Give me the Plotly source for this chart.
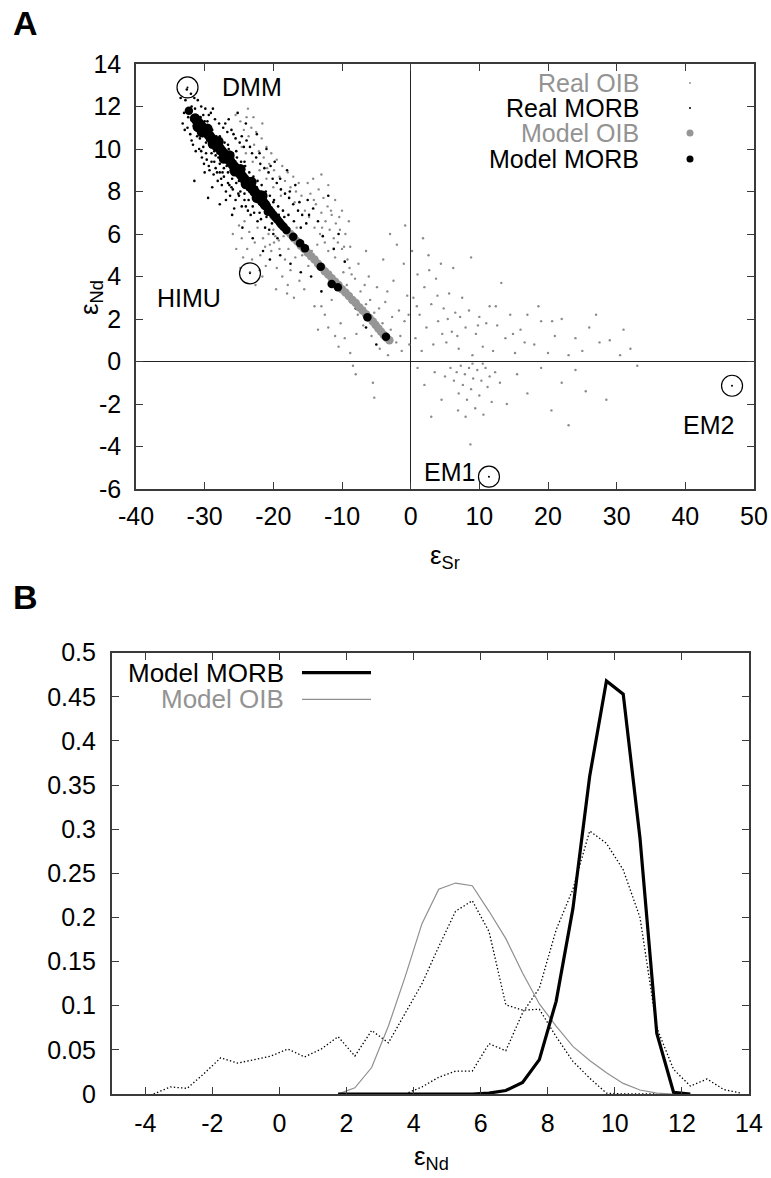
import plotly.graph_objects as go

W, H = 771, 1178
FONT = "Liberation Sans, Arial, Helvetica, sans-serif"
GRAY = "#939393"

# ---------------- Panel A data (eps_Sr, eps_Nd) ----------------
real_morb = [
    (-32.8,12.3),(-32.4,11.5),(-31.9,12.0),(-31.6,11.1),(-31.2,11.6),(-30.9,10.8),(-30.6,11.5),(-30.3,10.6),
    (-30.0,11.3),(-29.8,10.3),(-29.5,11.0),(-29.2,10.1),(-28.9,10.9),(-28.6,9.9),(-28.3,10.6),(-28.0,9.6),
    (-27.7,10.4),(-27.4,9.5),(-27.1,10.3),(-26.8,9.2),(-26.5,10.0),(-26.2,9.0),(-25.9,9.8),(-25.6,8.8),
    (-25.3,9.6),(-25.0,8.5),(-24.7,9.4),(-24.4,8.3),(-24.1,9.2),(-23.8,8.1),(-23.5,8.9),(-23.2,7.9),
    (-22.9,8.7),(-22.6,7.6),(-22.3,8.5),(-22.0,7.4),(-21.7,8.3),(-21.4,7.2),(-21.1,8.0),(-20.8,7.0),
    (-20.5,7.8),(-20.2,6.9),(-19.9,7.6),(-19.6,6.7),(-19.3,7.3),(-19.0,6.4),(-18.6,7.1),(-18.2,6.2),
    (-17.8,6.9),(-17.4,6.0),(-17.0,6.6),(-16.5,5.8),(-16.0,6.3),
    (-33.2,11.2),(-32.9,10.9),(-32.1,10.7),(-31.7,10.2),(-31.3,9.9),(-30.8,10.0),(-30.4,9.6),(-30.1,9.3),
    (-29.7,9.5),(-29.3,9.0),(-29.0,9.4),(-28.7,8.8),(-28.4,9.1),(-28.1,8.5),(-27.8,8.9),(-27.5,8.3),
    (-27.2,8.7),(-26.9,8.0),(-26.6,8.4),(-26.3,7.8),(-25.9,8.1),(-25.5,7.6),(-25.1,7.9),(-24.6,7.3),
    (-24.2,7.6),(-23.7,7.1),(-23.3,6.9),(-22.8,7.0),(-22.3,6.6),(-21.8,6.7),(-21.2,6.3),(-20.6,6.2),
    (-20.0,6.0),(-19.4,5.8),
    (-30.5,12.0),(-29.9,11.9),(-29.1,11.7),(-28.5,11.4),(-27.9,11.2),(-27.3,11.0),(-26.7,10.8),(-26.1,10.9),
    (-25.5,10.5),(-24.9,10.3),(-24.3,10.1),(-23.9,10.4),(-23.1,9.8),(-22.5,9.6),(-21.9,9.3),(-21.3,9.1),
    (-20.7,8.9),(-20.1,8.6),(-19.5,8.4),(-18.9,8.1),(-18.3,7.9),(-17.7,7.7),(-17.1,7.4),(-16.4,7.1),
    (-15.8,6.9),(-15.2,6.5),
    (-33.5,12.4),(-32.6,12.8),(-32.0,12.6),(-31.0,12.3),(-28.8,11.9),(-26.5,11.4),(-25.2,11.7),(-24.0,11.2),
    (-22.4,10.7),(-21.0,10.0),(-19.8,9.4),(-18.0,9.0),(-16.8,8.3),(-15.0,7.6),(-14.2,7.2),(-13.5,6.6),
    (-12.8,5.9),(-12.0,7.8),(-11.2,5.3),(-10.5,6.0),(-9.6,4.7),(-31.5,8.5),(-29.5,7.7),(-27.8,7.4),
    (-26.0,6.9),(-24.5,6.3),(-23.0,5.8),(-21.5,5.2),(-20.5,4.8),(-19.0,5.0),(-17.5,4.6),(-16.0,4.2),
    (-14.5,4.0),(-13.0,3.3),(-9.0,3.1),(-8.0,2.5),(-6.5,1.6),(-5.0,0.8),
    (-30.2,10.1),(-29.6,10.4),(-29.0,9.8),(-28.4,9.7),(-27.8,9.3),(-27.2,9.1),(-26.6,8.9),(-26.0,8.6),
    (-25.4,8.4),(-24.8,8.0),(-24.2,7.9),(-23.6,7.6),(-28.8,10.2),(-28.2,8.9),(-27.6,8.6),(-26.4,8.3),
    (-25.8,9.2),(-25.2,8.9),(-24.6,8.6),(-23.4,8.2),(-22.8,7.9),(-22.2,7.8),(-30.7,10.5),(-31.1,10.6),
    (-29.4,9.2),(-27.0,9.6),(-26.9,7.6),(-25.7,7.2),(-28.9,8.2),(-30.0,8.9),
    (-32.2,11.9),(-31.8,11.5),(-31.4,11.9),(-31.0,11.0),(-30.6,10.7),(-30.2,11.6),(-29.9,10.6),(-29.6,11.3),
    (-29.3,10.4),(-29.0,10.9),(-28.7,10.0),(-28.4,10.4),(-28.1,9.8),(-27.8,10.6),(-27.5,9.8),(-27.2,10.0),
    (-26.9,9.4),(-26.6,10.2),(-26.3,9.3),(-26.0,9.7),(-25.7,9.0),(-25.4,9.9),(-25.1,8.7),(-24.8,9.2),
    (-24.5,8.6),(-24.2,9.4),(-23.9,8.5),(-23.6,8.6),(-23.3,8.0),(-23.0,8.6),(-22.7,8.0),(-22.4,8.2),
    (-22.1,7.6),(-21.8,8.0),(-21.5,7.5),(-21.2,7.7),(-20.9,7.3),(-20.6,7.4),(-20.3,7.1),(-20.0,7.5),
    (-19.7,6.9),(-19.2,6.9),(-18.8,6.6),(-18.4,6.8),(-31.9,10.4),(-30.5,9.9),(-29.8,9.8),(-28.6,9.4),
    (-27.4,8.9),(-26.1,8.2),(-25.0,7.8),(-24.0,7.3),(-23.0,7.3),(-22.0,7.0),(-21.0,6.8),(-20.2,6.5),
    (-32.5,11.0),(-33.0,11.7),(-31.5,12.4),(-29.4,11.6),(-27.0,11.2),(-25.8,10.7),(-24.6,10.6),(-23.4,10.1),
    (-22.0,9.8),(-20.4,9.2),(-19.0,8.6),(-17.6,8.0),(-16.2,7.5),(-14.8,6.9),
]

real_oib = [
    (-25.5,11.6),(-24.8,11.3),(-24.3,10.9),(-23.9,11.5),(-23.6,10.6),(-23.2,11.0),(-22.8,10.2),(-22.5,10.8),
    (-22.1,9.9),(-21.7,10.5),(-21.4,9.6),(-21.0,10.1),(-20.6,9.3),(-20.3,9.8),(-19.9,9.0),(-19.5,9.5),
    (-19.1,8.7),(-18.7,9.2),(-18.3,8.5),(-17.9,8.9),(-17.5,8.2),(-17.1,8.7),(-16.7,8.0),(-16.3,8.4),
    (-15.9,7.8),(-24.0,9.8),(-23.0,9.4),(-22.0,9.0),(-21.0,8.6),(-20.0,8.2),
    (-15.0,8.4),(-14.6,7.9),(-14.2,8.6),(-13.8,7.4),(-13.4,8.1),(-13.0,7.0),(-12.7,7.7),(-12.4,6.6),
    (-12.1,7.3),(-11.8,6.2),(-11.5,6.9),(-11.2,5.8),(-10.9,6.5),(-10.6,5.6),(-10.3,6.2),(-10.0,5.3),
    (-14.8,6.8),(-14.0,6.3),(-13.2,6.0),(-12.5,5.6),(-12.0,5.2),(-11.0,4.9),(-13.6,5.5),(-14.4,5.2),
    (-9.5,6.0),(-9.2,4.8),(-8.8,5.4),(-13.0,8.8),(-12.0,8.3),(-11.0,7.6),(-10.0,7.1),(-9.0,6.6),
    (-25.0,6.4),(-24.6,5.8),(-24.2,6.6),(-23.8,5.3),(-23.5,6.1),(-23.1,4.8),(-22.7,5.6),(-22.3,6.3),
    (-21.9,5.0),(-21.5,5.8),(-21.1,4.5),(-20.7,6.0),(-20.3,5.2),(-19.9,5.6),(-19.5,4.4),(-19.1,5.3),
    (-18.7,4.0),(-18.3,4.8),(-17.9,3.6),(-17.5,4.3),(-20.0,6.2),(-19.7,5.9),(-19.2,5.7),(-20.5,5.5),
    (-21.2,5.4),(-22.0,4.3),(-23.4,4.2),(-24.4,4.9),(-25.4,5.3),(-18.0,3.2),(-17.0,3.0),(-16.2,3.8),
    (-15.5,3.4),(-16.8,4.9),(-15.8,5.0),
    (-9.8,4.2),(-9.3,3.6),(-8.9,4.4),(-8.5,2.8),(-8.1,3.9),(-7.7,2.2),(-7.3,3.3),(-6.9,1.7),
    (-6.5,2.7),(-6.1,4.0),(-5.7,1.2),(-5.3,2.3),(-4.9,3.5),(-4.5,0.6),(-4.1,1.8),(-3.7,2.8),
    (-3.3,0.3),(-2.9,1.5),(-2.5,3.8),(-2.1,0.9),(-1.7,2.4),(-1.3,0.5),(-0.9,1.9),(-0.5,3.1),
    (-11.5,2.9),(-11.0,1.2),(-10.5,0.7),(-10.2,1.8),(-9.6,1.1),(-8.8,0.4),(-8.4,-0.2),(-8.0,-0.6),
    (-5.5,-1.0),(-5.3,-1.7),(-6.5,5.2),(-4.0,4.8),(-2.0,5.5),(-1.0,4.6),(-0.8,6.4),(-3.0,6.0),
    (-12.5,2.2),(-13.5,1.5),(-14.0,2.6),
    (0.4,3.0),(0.7,1.1),(1.0,4.1),(1.3,2.2),(1.6,0.5),(2.0,3.5),(2.3,1.6),(2.6,5.0),
    (3.0,2.7),(3.3,0.8),(3.7,3.9),(4.0,1.9),(4.4,4.6),(4.8,2.5),(5.2,0.9),(5.6,3.2),
    (6.0,1.4),(6.5,2.3),(7.0,0.6),(7.5,3.0),(8.0,1.6),(8.5,2.4),(9.0,0.3),(9.5,1.3),
    (10.0,2.1),(10.5,0.7),(11.0,1.8),(11.5,2.6),(12.0,0.5),(12.6,1.7),(13.2,3.7),(13.8,1.1),
    (14.5,2.2),(15.2,0.4),(16.0,1.5),(17.0,2.2),(18.0,0.8),(19.0,1.9),(20.0,0.4),(21.0,1.2),
    (22.0,2.0),(23.0,0.3),(24.0,1.1),(25.0,0.5),(26.0,1.6),(27.5,0.9),(29.0,1.0),(30.5,0.3),
    (32.0,0.6),(6.2,4.4),(8.8,4.9),(1.8,5.8),(0.2,5.2),
    (5.8,-0.3),(6.3,-0.9),(6.7,-0.5),(7.0,-1.5),(7.3,-0.2),(7.6,-1.1),(7.9,-0.6),(8.2,-1.8),
    (8.5,-0.3),(8.8,-1.3),(9.1,-0.8),(9.4,-2.2),(9.7,-0.4),(10.0,-1.6),(10.3,-0.9),(10.6,-2.5),
    (10.9,-0.3),(11.2,-1.2),(11.5,-0.7),(11.8,-1.9),(8.0,-2.6),(9.0,-0.1),(10.5,-0.1),(12.3,-0.5),
    (6.9,-2.3),(1.0,-0.3),(2.0,-1.1),(3.5,-0.5),(4.5,-1.8),(5.0,-0.7),(8.7,-3.9),(13.0,-1.0),
    (14.0,-2.0),(15.5,-0.6),(17.0,-1.5),(19.0,-0.3),(20.5,-2.3),(22.0,-1.0),(24.0,-0.4),(23.0,-3.0),
    (25.5,-1.4),(28.5,-1.8),(33.0,-0.2),(3.0,-2.6),
    (-23.7,11.9),(-22.9,11.5),(-21.6,11.2),(-24.6,10.1),(-20.9,9.1),(-18.9,7.8),(-16.9,7.5),(-15.4,7.1),
    (-14.1,7.6),(-12.9,6.3),(-11.6,7.1),(-10.4,6.8),(-9.7,5.4),(-8.6,4.1),(-7.6,4.6),(-7.9,1.3),
    (-6.7,3.6),(-5.9,2.9),(-4.6,2.5),(-3.4,3.3),(-2.7,2.1),(-1.5,1.2),(-0.3,2.2),(-0.2,0.8),
    (0.9,2.6),(2.7,4.3),(3.9,3.1),(4.6,1.3),(5.4,2.0),(6.8,1.2),(7.2,2.1),(9.8,1.7),
    (12.4,2.6),(14.9,1.3),(16.6,0.9),(18.6,2.6),(20.6,1.9),(27.0,2.2),(31.0,1.5),(-19.6,3.4),
    (-21.6,4.0),(-22.6,3.6),(-24.8,4.4),(-25.9,6.0),(-14.9,4.5),(-13.0,2.6),(-12.0,1.6),(-16.6,6.3),
    (-17.8,5.3),(-18.5,5.9),
]

model_oib = [
    (-20.0,6.85),(-19.5,6.70),(-19.0,6.50),(-18.5,6.35),(-18.0,6.15),(-17.5,6.00),(-17.0,5.80),(-16.5,5.65),
    (-16.0,5.45),(-15.5,5.30),(-15.0,5.12),(-14.5,4.95),(-14.0,4.80),(-13.5,4.60),(-13.0,4.45),(-12.5,4.25),
    (-12.0,4.10),(-11.5,3.92),(-11.0,3.75),(-10.5,3.60),(-10.0,3.40),(-9.5,3.25),(-9.0,3.08),(-8.5,2.90),
    (-8.0,2.75),(-7.5,2.55),(-7.0,2.40),(-6.5,2.22),(-6.0,2.05),(-5.5,1.88),(-5.1,1.72),(-4.7,1.55),
    (-4.3,1.40),(-3.9,1.25),(-3.5,1.12),(-3.1,1.00),
]

model_morb_band = [
    (-31.4,11.44),(-31.1,11.32),(-30.8,11.20),(-30.5,11.08),(-30.2,10.98),(-29.9,10.86),(-29.6,10.74),
    (-29.3,10.62),(-29.0,10.50),(-28.7,10.39),(-28.4,10.27),(-28.1,10.15),(-27.8,10.02),(-27.5,9.90),
    (-27.2,9.78),(-26.9,9.66),(-26.6,9.55),(-26.3,9.43),(-26.0,9.30),(-25.7,9.18),(-25.4,9.06),
    (-25.1,8.94),(-24.8,8.82),(-24.5,8.70),(-24.2,8.58),(-23.9,8.46),(-23.6,8.34),(-23.3,8.22),
    (-23.0,8.10),(-22.7,7.98),(-22.4,7.86),(-22.1,7.74),(-21.8,7.62),(-21.5,7.50),(-21.2,7.38),
    (-31.0,11.05),(-30.4,10.80),(-29.6,10.95),(-28.8,10.25),(-28.0,10.35),(-27.2,9.55),(-26.4,9.70),
    (-25.6,8.95),(-24.8,9.05),(-24.0,8.35),(-23.2,8.45),(-22.4,7.70),(-21.6,7.80),
]
model_morb = [
    (-32.3,11.80),(-30.8,10.97),
    (-20.9,7.26),(-20.6,7.15),(-20.3,7.03),(-20.0,6.91),(-19.7,6.79),(-19.4,6.68),(-19.1,6.56),
    (-18.8,6.44),(-18.5,6.33),(-18.1,6.19),(-20.8,7.05),
    (-17.1,5.87),(-16.1,5.56),(-15.4,5.33),(-13.1,4.46),(-11.5,3.65),(-10.6,3.49),(-6.3,2.08),(-3.6,1.17),
]

endmembers = ["DMM", "HIMU", "EM1", "EM2"]
end_sr = [-32.5, -23.4, 11.4, 46.8]
end_nd = [12.9, 4.15, -5.42, -1.14]
label_sr = [-27.8, -37.2, 1.6, 39.4]
label_nd = [12.92, 3.0, -5.2, -3.0]

a_xticks = [-40, -30, -20, -10, 0, 10, 20, 30, 40, 50]
a_xtext = ["-40", "-30", "-20", "-10", "0", "10", "20", "30", "40", "50"]
a_yticks = [-6, -4, -2, 0, 2, 4, 6, 8, 10, 12, 14]
a_ytext = ["-6", "-4", "-2", "0", "2", "4", "6", "8", "10", "12", "14"]

# ---------------- Panel B data (eps_Nd histograms) ----------------
bins_model = [1.75, 2.25, 2.75, 3.25, 3.75, 4.25, 4.75, 5.25, 5.75, 6.25, 6.75, 7.25, 7.75,
              8.25, 8.75, 9.25, 9.75, 10.25, 10.75, 11.25, 11.75, 12.25]
model_morb_freq = [0, 0, 0, 0, 0, 0, 0, 0, 0, 0.001, 0.004, 0.013, 0.039,
                   0.105, 0.21, 0.36, 0.468, 0.453, 0.29, 0.069, 0.002, 0.0]
model_oib_freq = [0, 0.007, 0.03, 0.077, 0.133, 0.193, 0.232, 0.239, 0.236, 0.207, 0.176, 0.137, 0.102,
                  0.077, 0.054, 0.038, 0.024, 0.012, 0.0045, 0.001, 0, 0]

bins_real_oib = [-3.75, -3.25, -2.75, -2.25, -1.75, -1.25, -0.75, -0.25, 0.25, 0.75, 1.25, 1.75, 2.25,
                 2.75, 3.25, 3.75, 4.25, 4.75, 5.25, 5.75, 6.25, 6.75, 7.25, 7.75, 8.25, 8.75, 9.25,
                 9.75, 10.25, 10.75, 11.25]
real_oib_freq = [0.0, 0.008, 0.0064, 0.023, 0.041, 0.035, 0.039, 0.043, 0.051, 0.042, 0.051, 0.065, 0.043,
                 0.072, 0.058, 0.091, 0.125, 0.167, 0.207, 0.219, 0.184, 0.101, 0.095, 0.096, 0.065, 0.037,
                 0.018, 0.001, 0, 0, 0]

bins_real_morb = [3.75, 4.25, 4.75, 5.25, 5.75, 6.25, 6.75, 7.25, 7.75, 8.25, 8.75, 9.25, 9.75,
                  10.25, 10.75, 11.25, 11.75, 12.25, 12.75, 13.25, 13.75]
real_morb_freq = [0, 0.008, 0.019, 0.026, 0.026, 0.057, 0.049, 0.092, 0.12, 0.186, 0.232, 0.298, 0.284,
                  0.254, 0.2, 0.075, 0.028, 0.009, 0.017, 0.005, 0.001]

b_xticks = [-4, -2, 0, 2, 4, 6, 8, 10, 12, 14]
b_xtext = ["-4", "-2", "0", "2", "4", "6", "8", "10", "12", "14"]
b_yticks = [0, 0.05, 0.1, 0.15, 0.2, 0.25, 0.3, 0.35, 0.4, 0.45, 0.5]
b_ytext = ["0", "0.05", "0.1", "0.15", "0.2", "0.25", "0.3", "0.35", "0.4", "0.45", "0.5"]

# ---------------- helpers ----------------
def px(x):
    return x / W

def py(y):
    return 1 - y / H

fig = go.Figure()

# Panel A traces
fig.add_trace(go.Scatter(x=[p[0] for p in real_oib], y=[p[1] for p in real_oib], mode="markers",
                         marker=dict(size=2.4, color="#8a8a8a"), xaxis="x", yaxis="y", hoverinfo="skip"))
fig.add_trace(go.Scatter(x=[p[0] for p in real_morb], y=[p[1] for p in real_morb], mode="markers",
                         marker=dict(size=2.6, color="#000000"), xaxis="x", yaxis="y", hoverinfo="skip"))
fig.add_trace(go.Scatter(x=[p[0] for p in model_oib], y=[p[1] for p in model_oib], mode="markers",
                         marker=dict(size=8.5, color="#969696"), xaxis="x", yaxis="y", hoverinfo="skip"))
fig.add_trace(go.Scatter(x=[p[0] for p in model_morb_band], y=[p[1] for p in model_morb_band], mode="markers",
                         marker=dict(size=10.5, color="#000000"), xaxis="x", yaxis="y", hoverinfo="skip"))
fig.add_trace(go.Scatter(x=[p[0] for p in model_morb], y=[p[1] for p in model_morb], mode="markers",
                         marker=dict(size=8.5, color="#000000"), xaxis="x", yaxis="y", hoverinfo="skip"))
fig.add_trace(go.Scatter(x=end_sr, y=end_nd, mode="markers",
                         marker=dict(size=21, symbol="circle-open", color="#000000", line=dict(width=1.2)),
                         xaxis="x", yaxis="y", hoverinfo="skip"))
fig.add_trace(go.Scatter(x=end_sr, y=end_nd, mode="markers",
                         marker=dict(size=2, color="#000000"), xaxis="x", yaxis="y", hoverinfo="skip"))

# Panel B traces
DOT = "1.4px,2.2px"
fig.add_trace(go.Scatter(x=bins_real_oib, y=real_oib_freq, mode="lines",
                         line=dict(color="#000000", width=1.3, dash=DOT), xaxis="x2", yaxis="y2"))
fig.add_trace(go.Scatter(x=bins_real_morb, y=real_morb_freq, mode="lines",
                         line=dict(color="#000000", width=1.3, dash=DOT), xaxis="x2", yaxis="y2"))
fig.add_trace(go.Scatter(x=bins_model, y=model_oib_freq, mode="lines",
                         line=dict(color="#8f8f8f", width=1.2), xaxis="x2", yaxis="y2"))
fig.add_trace(go.Scatter(x=bins_model, y=model_morb_freq, mode="lines",
                         line=dict(color="#000000", width=3.2), xaxis="x2", yaxis="y2"))

axis_common = dict(showline=True, mirror="allticks", linecolor="#3a3a3a", linewidth=1.6,
                   ticks="inside", ticklen=7, tickcolor="#3a3a3a", tickwidth=1.3,
                   showgrid=False, automargin=False,
                   tickfont=dict(family=FONT, size=25, color="#000000"))

fig.update_layout(
    width=W, height=H, margin=dict(l=0, r=0, t=0, b=0),
    paper_bgcolor="white", plot_bgcolor="white", showlegend=False,
    font=dict(family=FONT, color="#000000"),
    xaxis=dict(domain=[px(136), px(754)], range=[-40, 50], anchor="y",
               tickmode="array", tickvals=a_xticks, ticktext=a_xtext, ticklabelstandoff=4,
               zeroline=True, zerolinecolor="#222222", zerolinewidth=1.4, **axis_common),
    yaxis=dict(domain=[py(489), py(64)], range=[-6, 14], anchor="x",
               tickmode="array", tickvals=a_yticks, ticktext=a_ytext, ticklabelstandoff=8,
               zeroline=True, zerolinecolor="#222222", zerolinewidth=1.4, **axis_common),
    xaxis2=dict(domain=[px(111.7), px(749)], range=[-5, 14], anchor="y2",
                tickmode="array", tickvals=b_xticks, ticktext=b_xtext, ticklabelstandoff=6,
                zeroline=False, **axis_common),
    yaxis2=dict(domain=[py(1094), py(652.7)], range=[0, 0.5], anchor="x2",
                tickmode="array", tickvals=b_yticks, ticktext=b_ytext, ticklabelstandoff=9,
                zeroline=False, **axis_common),
)

ann = []
# Panel labels
ann.append(dict(text="<b>A</b>", x=px(11), y=py(23), xref="paper", yref="paper", xanchor="left",
                yanchor="middle", showarrow=False, font=dict(size=34, family=FONT)))
ann.append(dict(text="<b>B</b>", x=px(11), y=py(597), xref="paper", yref="paper", xanchor="left",
                yanchor="middle", showarrow=False, font=dict(size=34, family=FONT)))
# Axis titles
ann.append(dict(text="ε<sub>Nd</sub>", x=px(72), y=py(278), xref="paper", yref="paper", textangle=-90,
                showarrow=False, font=dict(size=26, family=FONT)))
ann.append(dict(text="ε<sub>Sr</sub>", x=px(445), y=py(575), xref="paper", yref="paper",
                xanchor="center", yanchor="bottom", showarrow=False, font=dict(size=26, family=FONT)))
ann.append(dict(text="ε<sub>Nd</sub>", x=px(431), y=py(1176), xref="paper", yref="paper",
                xanchor="center", yanchor="bottom", showarrow=False, font=dict(size=26, family=FONT)))
# End-member labels
for name, lx, ly in zip(endmembers, label_sr, label_nd):
    ann.append(dict(text=name, x=lx, y=ly, xref="x", yref="y", xanchor="left", yanchor="middle",
                    showarrow=False, font=dict(size=25, family=FONT)))
# Legend A
leg_a = [("Real OIB", GRAY, 83), ("Real MORB", "#000000", 108),
         ("Model OIB", GRAY, 133), ("Model MORB", "#000000", 159)]
for txt, col, yy in leg_a:
    ann.append(dict(text=txt, x=px(641), y=py(yy), xref="paper", yref="paper", xanchor="right",
                    yanchor="middle", height=22, showarrow=False,
                    font=dict(size=25, family=FONT, color=col)))
# Legend B
leg_b = [("Model MORB", "#000000", 672.7), ("Model OIB", GRAY, 699.3)]
for txt, col, yy in leg_b:
    ann.append(dict(text=txt, x=px(286), y=py(yy), xref="paper", yref="paper", xanchor="right",
                    yanchor="middle", height=24, showarrow=False,
                    font=dict(size=26, family=FONT, color=col)))
fig.update_layout(annotations=ann)

shapes = []
# Legend A keys
for (r, col, yy) in [(1.0, GRAY, 83), (1.0, "#000000", 108), (3.5, "#969696", 133), (3.5, "#000000", 159)]:
    shapes.append(dict(type="circle", xref="paper", yref="paper",
                       x0=px(690 - r), x1=px(690 + r), y0=py(yy + r), y1=py(yy - r),
                       fillcolor=col, line=dict(width=0)))
# Legend B keys
shapes.append(dict(type="line", xref="paper", yref="paper", x0=px(302), x1=px(371),
                   y0=py(672.7), y1=py(672.7), line=dict(color="#000000", width=3.2)))
shapes.append(dict(type="line", xref="paper", yref="paper", x0=px(302), x1=px(371),
                   y0=py(699.3), y1=py(699.3), line=dict(color="#8f8f8f", width=1.2)))
fig.update_layout(shapes=shapes)

fig.write_html("out.html", config={"displayModeBar": False},
               post_script="document.body.style.margin='0px';document.body.style.overflow='hidden';")
